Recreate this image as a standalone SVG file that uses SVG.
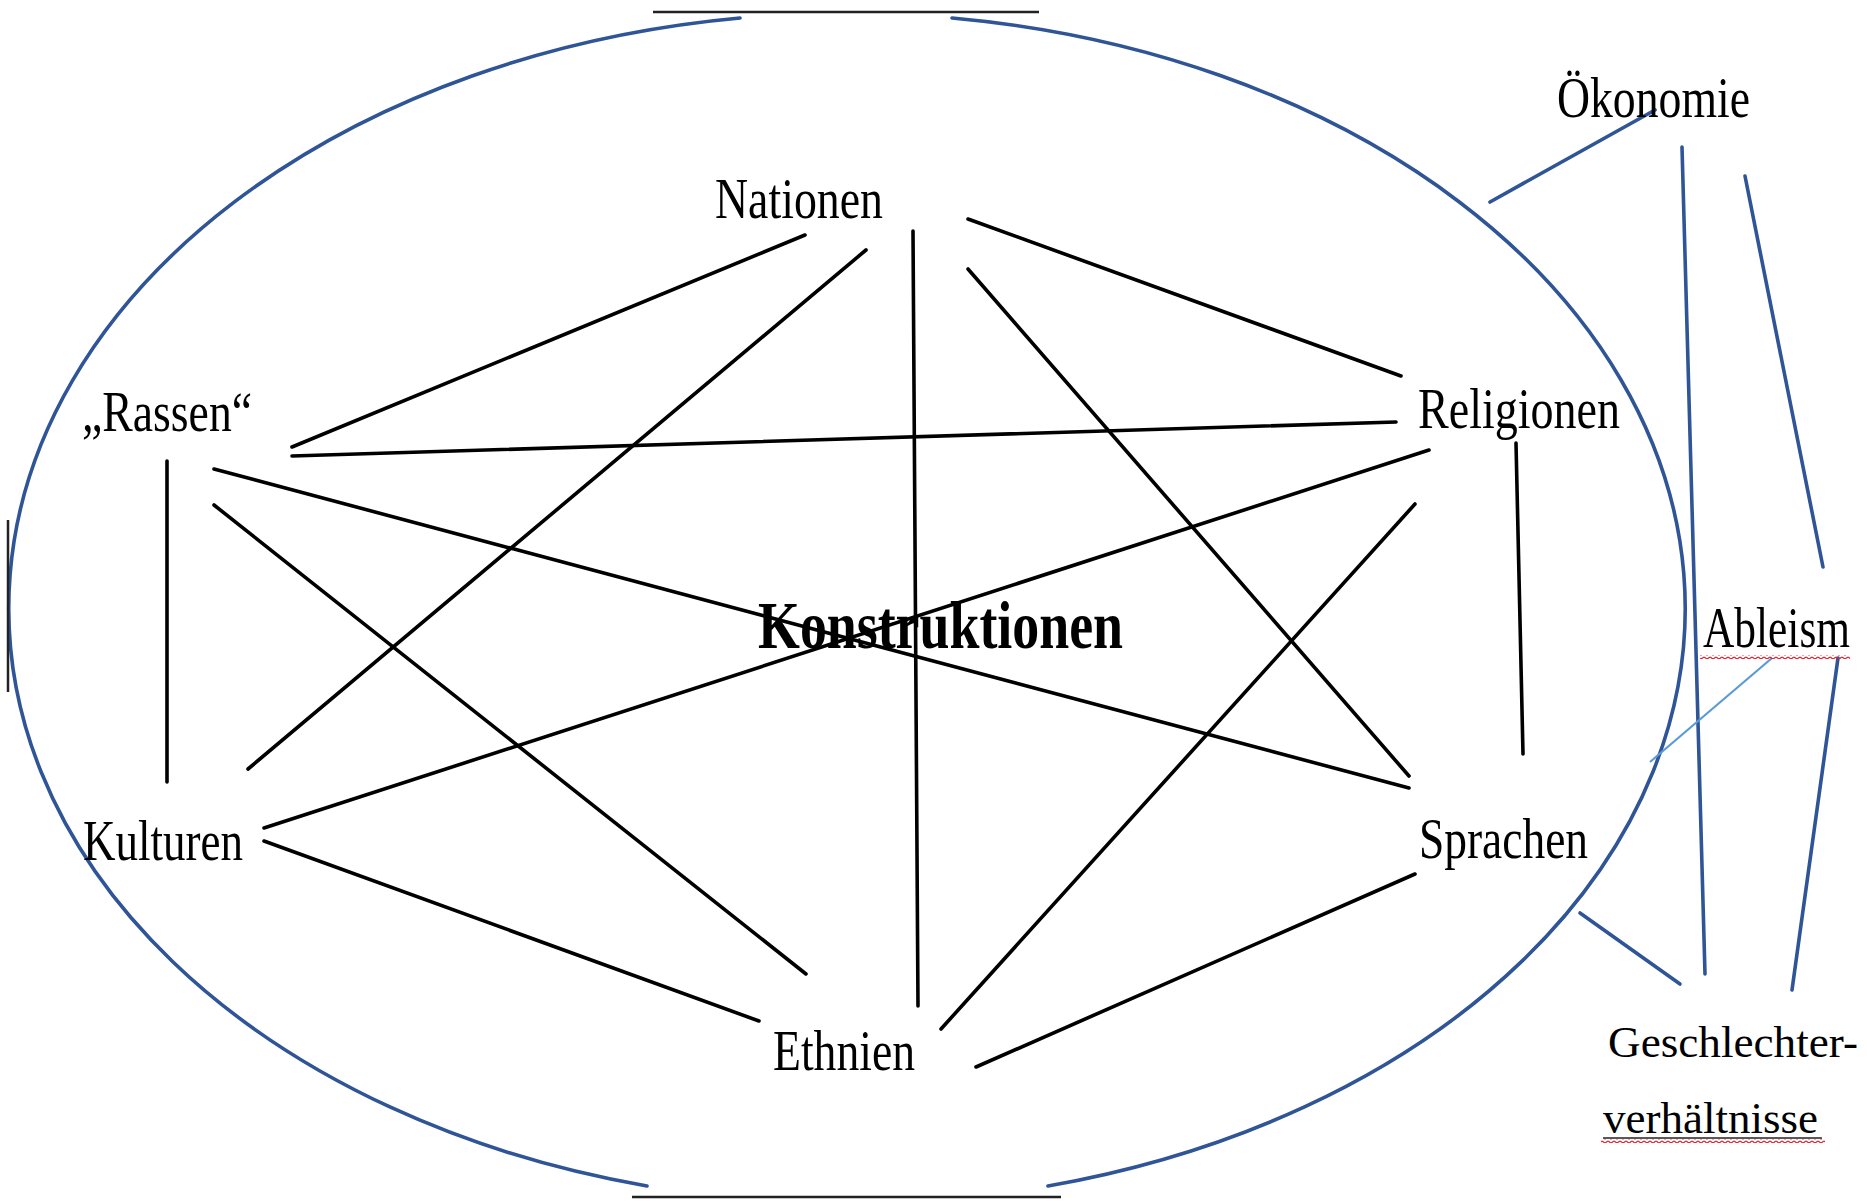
<svg xmlns="http://www.w3.org/2000/svg" width="1867" height="1201" viewBox="0 0 1867 1201">
<style>
.lbl{font-family:"Liberation Serif","Times New Roman",serif;font-size:56px;fill:#000;}
.small{font-size:45px;}
.bold{font-weight:bold;font-size:68px;}
.edge{stroke:#000;stroke-width:3.6;stroke-linecap:round;fill:none;}
.blue{stroke:#2f5597;stroke-width:3.6;stroke-linecap:round;fill:none;}
.lightblue{stroke:#5b9bd5;stroke-width:2.2;fill:none;}
.rule{stroke:#222;stroke-width:2.5;}
</style>
<defs>
<pattern id="wave" width="6" height="4" patternUnits="userSpaceOnUse">
<path d="M0 1 L3 3 L6 1" stroke="#e0202a" stroke-width="1.1" fill="none"/>
</pattern>
</defs>
<rect width="1867" height="1201" fill="#fff"/>
<g id="frame">
<path class="blue" d="M740 18 A838 595 0 0 0 647 1186" stroke-width="3"/>
<path class="blue" d="M952 18 A838 595 0 0 1 1048 1186" stroke-width="3"/>
<line class="rule" x1="653" y1="12" x2="1039" y2="12"/>
<line class="rule" x1="632" y1="1197" x2="1061" y2="1197"/>
<line class="rule" x1="8" y1="520" x2="8" y2="692" stroke-width="2"/>
</g>
<g id="connectors">
<line class="edge" x1="805" y1="235" x2="292" y2="447"/>
<line class="edge" x1="292" y1="456" x2="1396" y2="422"/>
<line class="edge" x1="866" y1="250" x2="248" y2="769"/>
<line class="edge" x1="913" y1="231" x2="918" y2="1006"/>
<line class="edge" x1="968" y1="219" x2="1401" y2="376"/>
<line class="edge" x1="968" y1="269" x2="1409" y2="776"/>
<line class="edge" x1="214" y1="469" x2="1409" y2="788"/>
<line class="edge" x1="214" y1="505" x2="806" y2="974"/>
<line class="edge" x1="167" y1="461" x2="167" y2="782"/>
<line class="edge" x1="264" y1="828" x2="1429" y2="450"/>
<line class="edge" x1="264" y1="841" x2="759" y2="1021"/>
<line class="edge" x1="1516" y1="443" x2="1523" y2="754"/>
<line class="edge" x1="1415" y1="504" x2="941" y2="1029"/>
<line class="edge" x1="1415" y1="874" x2="976" y2="1067"/>
<line class="blue" x1="1490" y1="202" x2="1655" y2="110"/>
<line class="blue" x1="1682" y1="147" x2="1705" y2="974"/>
<line class="blue" x1="1745" y1="176" x2="1823" y2="567"/>
<line class="blue" x1="1838" y1="658" x2="1792" y2="990"/>
<line class="blue" x1="1580" y1="913" x2="1680" y2="984"/>
<line class="lightblue" x1="1772" y1="658" x2="1650" y2="762"/>
</g>
<g id="node-nationen"><text class="lbl" x="715" y="218" textLength="168" lengthAdjust="spacingAndGlyphs">Nationen</text></g>
<g id="node-rassen"><text class="lbl" x="82" y="431" textLength="170" lengthAdjust="spacingAndGlyphs">„Rassen“</text></g>
<g id="node-religionen"><text class="lbl" x="1418" y="428" textLength="202" lengthAdjust="spacingAndGlyphs">Religionen</text></g>
<g id="node-kulturen"><text class="lbl" x="83" y="860" textLength="160" lengthAdjust="spacingAndGlyphs">Kulturen</text></g>
<g id="node-sprachen"><text class="lbl" x="1419" y="858" textLength="169" lengthAdjust="spacingAndGlyphs">Sprachen</text></g>
<g id="node-ethnien"><text class="lbl" x="773" y="1070" textLength="142" lengthAdjust="spacingAndGlyphs">Ethnien</text></g>
<g id="node-konstruktionen"><text class="lbl bold" x="758" y="648" textLength="365" lengthAdjust="spacingAndGlyphs">Konstruktionen</text></g>
<g id="node-oekonomie"><text class="lbl" x="1557" y="117" textLength="193" lengthAdjust="spacingAndGlyphs">Ökonomie</text></g>
<g id="node-ableism">
<text class="lbl" x="1850" y="647" text-anchor="end" textLength="147" lengthAdjust="spacingAndGlyphs">Ableism</text>
<rect x="1700" y="655" width="150" height="4" fill="url(#wave)"/>
</g>
<g id="node-geschlechter">
<text class="lbl small" x="1608" y="1057" textLength="250" lengthAdjust="spacingAndGlyphs">Geschlechter-</text>
<text class="lbl small" x="1603" y="1133" textLength="215" lengthAdjust="spacingAndGlyphs">verhältnisse</text>
<line x1="1603" y1="1138" x2="1822" y2="1138" stroke="#222" stroke-width="1.5"/>
<rect x="1601" y="1139" width="224" height="4" fill="url(#wave)"/>
</g>
</svg>
